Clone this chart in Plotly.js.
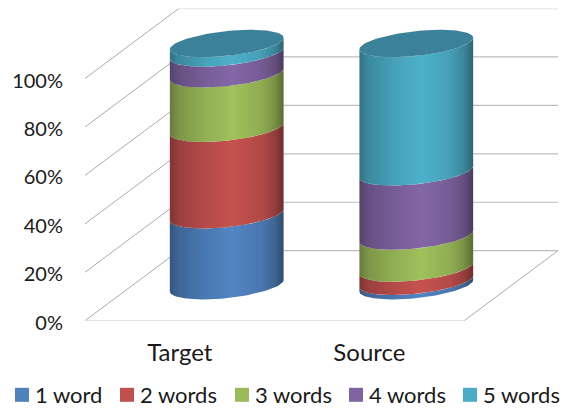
<!DOCTYPE html>
<html>
<head>
<meta charset="utf-8">
<script src="https://cdn.plot.ly/plotly-3.0.1.min.js"></script>
<style>html,body{margin:0;padding:0;background:#fff}</style>
</head>
<body>
<div id="chart" style="width:568px;height:408px"></div>
<script>
// Stacked shares per category, in percent
const categories = ['Target', 'Source'];
const seriesNames = ['1 word', '2 words', '3 words', '4 words', '5 words'];
const oneWord = [29.3, 1.8];
const twoWords = [35.7, 5.5];
const threeWords = [22.5, 13.2];
const fourWords = [8.6, 26.5];
const fiveWords = [3.9, 53.0];
const seriesValues = [oneWord, twoWords, threeWords, fourWords, fiveWords];
const percentTicks = [0, 20, 40, 60, 80, 100];

const seriesColors = ['#4F81BD', '#C0504D', '#9BBB59', '#8064A2', '#4BACC6'];
const legendWidths = [60, 70, 69, 69, 74];
const topFaceColor = '#3A8199';

// Oblique projection of the chart box, in axis units
const depthX = 0.495, depthY = 28.9;
const radius = 0.3, tiltY = 2.4, openY = 5.12;
const xMin = -0.5, xMax = 1.5;

function shade(hex, f) {
  const n = parseInt(hex.slice(1), 16);
  const ch = [n >> 16, (n >> 8) & 255, n & 255].map(c => Math.min(255, Math.round(c * f)));
  return `rgb(${ch.join(',')})`;
}
function cylinderScale(hex) {
  return [[0, shade(hex, .66)], [.08, shade(hex, .8)], [.3, shade(hex, .93)], [.55, shade(hex, 1.03)],
          [.8, shade(hex, .92)], [.92, shade(hex, .78)], [1, shade(hex, .58)]];
}
// Point on the rim of a horizontal disc at stack height v
function rim(cat, v, t) {
  return [cat + depthX / 2 + radius * Math.cos(t),
          v + depthY / 2 + tiltY * Math.cos(t) + openY * Math.sin(t)];
}
function band(cat, v0, v1, hex) {
  const xs = [], ys = [];
  for (let i = 0; i <= 60; i++) {
    const p = rim(cat, v0, Math.PI + Math.PI * i / 60);
    xs.push(p[0]); ys.push(p[1]);
  }
  for (let i = 60; i >= 0; i--) {
    const p = rim(cat, v1, Math.PI + Math.PI * i / 60);
    xs.push(p[0]); ys.push(p[1]);
  }
  xs.push(xs[0]); ys.push(ys[0]);
  return {
    x: xs, y: ys, mode: 'lines', line: {width: 0}, fill: 'toself', showlegend: false, hoverinfo: 'skip',
    fillgradient: {type: 'horizontal', colorscale: cylinderScale(hex)}
  };
}
function disc(cat, v) {
  const xs = [], ys = [];
  for (let i = 0; i <= 120; i++) {
    const p = rim(cat, v, 2 * Math.PI * i / 120);
    xs.push(p[0]); ys.push(p[1]);
  }
  return {x: xs, y: ys, mode: 'lines', line: {width: 0}, fill: 'toself', fillcolor: topFaceColor,
          showlegend: false, hoverinfo: 'skip'};
}
function wallLine(xs, ys, color, width) {
  return {x: xs, y: ys, mode: 'lines', line: {color: color, width: width}, showlegend: false, hoverinfo: 'skip'};
}

const traces = [];

// Side and back walls: one bent line per tick
percentTicks.forEach(v => {
  traces.push(wallLine([xMin, xMin + depthX], [v, v + depthY], '#ababab', 1));
  const top = v === 100;
  traces.push(wallLine([xMin + depthX, xMax + depthX], [v + depthY, v + depthY],
                       top ? '#dcdcdc' : '#bdbdbd', top ? 1.5 : 1.2));
});
// Floor front edge and right edge
traces.push(wallLine([xMin, xMax], [0, 0], '#d9d9d9', 1.6));
traces.push(wallLine([xMax, xMax + depthX], [0, depthY], '#ababab', 1));

// Cylinders, bottom band first
categories.forEach((c, cat) => {
  let base = 0;
  seriesValues.forEach((vals, s) => {
    traces.push(band(cat, base, base + vals[cat], seriesColors[s]));
    base += vals[cat];
  });
  traces.push(disc(cat, base));
});

// Legend entries
seriesNames.forEach((name, s) => {
  traces.push({x: [null], y: [null], name: name, mode: 'markers', hoverinfo: 'skip',
               legendwidth: legendWidths[s],
               marker: {symbol: 'square', size: 14, color: seriesColors[s]}});
});

const baseFont = {family: 'Lato, Carlito, sans-serif', size: 20, color: '#1a1a1a'};
const W = 568, H = 408;
const layout = {
  width: W, height: H,
  margin: {l: 0, r: 0, t: 0, b: 0, pad: 0},
  paper_bgcolor: '#fff', plot_bgcolor: 'rgba(0,0,0,0)',
  font: baseFont,
  showlegend: true,
  legend: {orientation: 'h', x: 0, xanchor: 'left', y: 0, yanchor: 'bottom',
           font: {family: baseFont.family, size: 22, color: baseFont.color},
           bgcolor: 'rgba(0,0,0,0)', traceorder: 'normal', borderwidth: 0},
  xaxis: {domain: [85 / W, 558 / W], range: [xMin, xMax + depthX], tickmode: 'array', tickvals: [0, 1], ticktext: categories,
          showgrid: false, zeroline: false, showline: false, ticks: 'outside', ticklen: 10,
          tickcolor: 'rgba(0,0,0,0)', fixedrange: true,
          tickfont: {family: baseFont.family, size: 24, color: baseFont.color}},
  yaxis: {domain: [87.3 / H, 399.5 / H], range: [0, 100 + depthY], tickmode: 'array', tickvals: percentTicks,
          ticktext: percentTicks.map(v => v + '%'), showgrid: false, zeroline: false, showline: false,
          ticks: 'outside', ticklen: 17, tickcolor: 'rgba(0,0,0,0)', ticklabelshift: 2, fixedrange: true}
};

Plotly.newPlot('chart', traces, layout, {displayModeBar: false, staticPlot: true}).then(gd => {
  // Nudge the legend to the bottom-left corner and tighten the swatch-to-text gap
  const legend = gd.querySelector('g.legend');
  const m = /translate\(([-\d.]+)[ ,]+([-\d.]+)\)/.exec(legend.getAttribute('transform'));
  legend.setAttribute('transform', `translate(${+m[1] - 5},${+m[2] + 8})`);
  gd.querySelectorAll('g.legendsymbols').forEach(g => g.setAttribute('transform', 'translate(7,0)'));
});
</script>
</body>
</html>
